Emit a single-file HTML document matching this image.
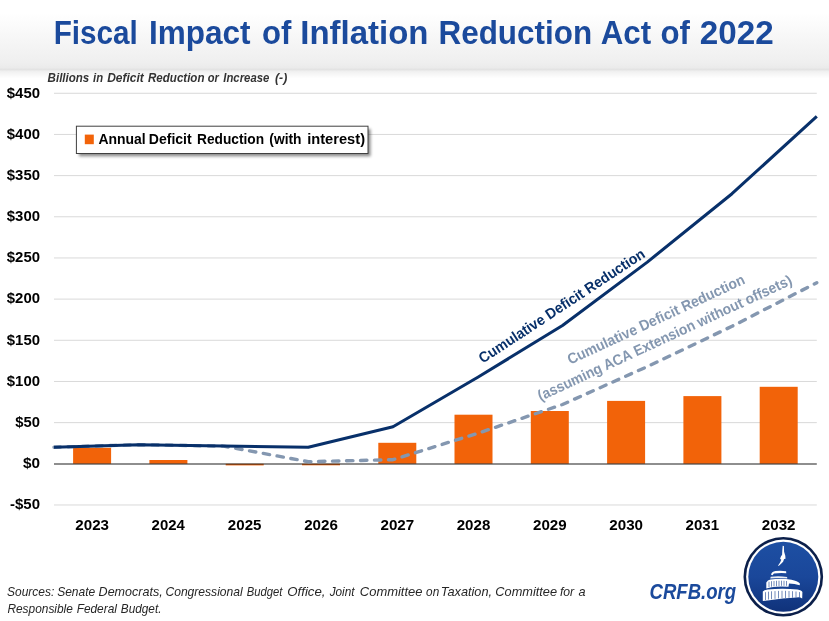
<!DOCTYPE html>
<html lang="en"><head><meta charset="utf-8"><title>Fiscal Impact of Inflation Reduction Act of 2022</title>
<style>
html,body{margin:0;padding:0;background:#fff;}
body{width:829px;height:621px;overflow:hidden;font-family:"Liberation Sans", sans-serif;}
svg{display:block;}
text{font-family:"Liberation Sans", sans-serif;white-space:pre;}
</style></head><body>
<svg width="829" height="621" viewBox="0 0 829 621">
<defs>
<linearGradient id="hg" gradientUnits="userSpaceOnUse" x1="0" y1="0" x2="0" y2="80">
<stop offset="0" stop-color="#ffffff"/><stop offset="0.16" stop-color="#ffffff"/><stop offset="0.5" stop-color="#f6f6f6"/><stop offset="0.78" stop-color="#efefef"/><stop offset="0.845" stop-color="#ebebeb"/><stop offset="0.868" stop-color="#e3e3e3"/><stop offset="0.895" stop-color="#f1f1f1"/><stop offset="0.98" stop-color="#ffffff"/>
</linearGradient>
<linearGradient id="lg" x1="0" y1="0" x2="0" y2="1"><stop offset="0" stop-color="#1d4fa3"/><stop offset="0.5" stop-color="#1a479a"/><stop offset="1" stop-color="#10327a"/></linearGradient>
<filter id="sh" x="-5%" y="-20%" width="112%" height="150%"><feGaussianBlur stdDeviation="1.6"/></filter>
</defs>
<rect x="0" y="0" width="829" height="621" fill="#ffffff"/>
<rect x="0" y="0" width="829" height="80" fill="url(#hg)"/>

<g font-size="32.5" font-weight="bold" fill="#1B4A9C">
<text x="53.64" y="44.40" textLength="84.03" lengthAdjust="spacingAndGlyphs">Fiscal</text>
<text x="148.92" y="44.40" textLength="101.56" lengthAdjust="spacingAndGlyphs">Impact</text>
<text x="262.09" y="44.40" textLength="29.35" lengthAdjust="spacingAndGlyphs">of</text>
<text x="300.33" y="44.40" textLength="128.12" lengthAdjust="spacingAndGlyphs">Inflation</text>
<text x="438.53" y="44.40" textLength="153.61" lengthAdjust="spacingAndGlyphs">Reduction</text>
<text x="600.75" y="44.40" textLength="50.44" lengthAdjust="spacingAndGlyphs">Act</text>
<text x="660.48" y="44.40" textLength="29.45" lengthAdjust="spacingAndGlyphs">of</text>
<text x="699.87" y="44.40" textLength="73.95" lengthAdjust="spacingAndGlyphs">2022</text>
</g>
<g font-size="12.7" font-weight="bold" font-style="italic" fill="#333">
<text x="47.60" y="81.60" textLength="41.69" lengthAdjust="spacingAndGlyphs">Billions</text>
<text x="93.11" y="81.60" textLength="10.06" lengthAdjust="spacingAndGlyphs">in</text>
<text x="107.20" y="81.60" textLength="36.69" lengthAdjust="spacingAndGlyphs">Deficit</text>
<text x="148.00" y="81.60" textLength="56.48" lengthAdjust="spacingAndGlyphs">Reduction</text>
<text x="207.82" y="81.60" textLength="11.12" lengthAdjust="spacingAndGlyphs">or</text>
<text x="223.31" y="81.60" textLength="46.01" lengthAdjust="spacingAndGlyphs">Increase</text>
<text x="275.05" y="81.60" textLength="12.21" lengthAdjust="spacingAndGlyphs">(-)</text>
</g>
<g stroke="#d9d9d9" stroke-width="1">
<line x1="54.0" y1="93.27" x2="816.8" y2="93.27"/>
<line x1="54.0" y1="134.44" x2="816.8" y2="134.44"/>
<line x1="54.0" y1="175.61" x2="816.8" y2="175.61"/>
<line x1="54.0" y1="216.78" x2="816.8" y2="216.78"/>
<line x1="54.0" y1="257.95" x2="816.8" y2="257.95"/>
<line x1="54.0" y1="299.12" x2="816.8" y2="299.12"/>
<line x1="54.0" y1="340.29" x2="816.8" y2="340.29"/>
<line x1="54.0" y1="381.46" x2="816.8" y2="381.46"/>
<line x1="54.0" y1="422.63" x2="816.8" y2="422.63"/>
<line x1="54.0" y1="504.97" x2="816.8" y2="504.97"/>
</g>
<g font-size="14.2" font-weight="bold" fill="#000">
<text x="6.81" y="97.57" textLength="33.20" lengthAdjust="spacingAndGlyphs">$450</text>
<text x="6.81" y="138.74" textLength="33.20" lengthAdjust="spacingAndGlyphs">$400</text>
<text x="6.81" y="179.91" textLength="33.20" lengthAdjust="spacingAndGlyphs">$350</text>
<text x="6.81" y="221.08" textLength="33.20" lengthAdjust="spacingAndGlyphs">$300</text>
<text x="6.81" y="262.25" textLength="33.20" lengthAdjust="spacingAndGlyphs">$250</text>
<text x="6.81" y="303.42" textLength="33.20" lengthAdjust="spacingAndGlyphs">$200</text>
<text x="6.81" y="344.59" textLength="33.20" lengthAdjust="spacingAndGlyphs">$150</text>
<text x="6.81" y="385.76" textLength="33.20" lengthAdjust="spacingAndGlyphs">$100</text>
<text x="15.31" y="426.93" textLength="24.69" lengthAdjust="spacingAndGlyphs">$50</text>
<text x="23.00" y="468.10" textLength="17.02" lengthAdjust="spacingAndGlyphs">$0</text>
<text x="10.02" y="509.27" textLength="29.99" lengthAdjust="spacingAndGlyphs">-$50</text>
</g>
<g fill="#F26309">
<rect x="73.1" y="447.8" width="38" height="16.0"/>
<rect x="149.4" y="460.0" width="38" height="3.8"/>
<rect x="225.7" y="463.8" width="38" height="1.6"/>
<rect x="302.0" y="463.8" width="38" height="1.5"/>
<rect x="378.3" y="442.8" width="38" height="21.0"/>
<rect x="454.5" y="414.7" width="38" height="49.1"/>
<rect x="530.8" y="411.0" width="38" height="52.8"/>
<rect x="607.1" y="400.9" width="38" height="62.9"/>
<rect x="683.4" y="396.1" width="38" height="67.7"/>
<rect x="759.7" y="386.8" width="38" height="77.0"/>
</g>
<line x1="54.0" y1="464.00" x2="816.8" y2="464.00" stroke="#1f1f1f" stroke-width="1.1"/>
<polyline points="54.0,447.2 138.8,444.7 223.5,446.1 308.3,461.7 393.0,459.7 477.8,433.3 562.5,404.5 647.3,366.6 732.0,326.3 816.8,282.7" fill="none" stroke="#8497B0" stroke-width="3.4" stroke-dasharray="6.4 7.6" stroke-linecap="round" stroke-linejoin="round"/>
<polyline points="54.0,447.2 138.8,444.7 223.5,446.1 308.3,447.3 393.0,426.7 477.8,377.3 562.5,325.5 647.3,262.1 732.0,193.7 816.8,116.3" fill="none" stroke="#08306A" stroke-width="3.05" stroke-linejoin="round"/>
<g font-size="14.2" font-weight="bold" fill="#000">
<text x="75.33" y="530.40" textLength="33.65" lengthAdjust="spacingAndGlyphs">2023</text>
<text x="151.61" y="530.40" textLength="33.19" lengthAdjust="spacingAndGlyphs">2024</text>
<text x="227.89" y="530.40" textLength="33.53" lengthAdjust="spacingAndGlyphs">2025</text>
<text x="304.17" y="530.40" textLength="33.65" lengthAdjust="spacingAndGlyphs">2026</text>
<text x="380.44" y="530.40" textLength="33.78" lengthAdjust="spacingAndGlyphs">2027</text>
<text x="456.73" y="530.40" textLength="33.58" lengthAdjust="spacingAndGlyphs">2028</text>
<text x="533.01" y="530.40" textLength="33.67" lengthAdjust="spacingAndGlyphs">2029</text>
<text x="609.28" y="530.40" textLength="33.73" lengthAdjust="spacingAndGlyphs">2030</text>
<text x="685.57" y="530.40" textLength="33.53" lengthAdjust="spacingAndGlyphs">2031</text>
<text x="761.84" y="530.40" textLength="33.72" lengthAdjust="spacingAndGlyphs">2032</text>
</g>
<rect x="79" y="129" width="291.6" height="27.3" fill="#000" opacity="0.45" filter="url(#sh)"/>
<rect x="76.4" y="126.2" width="291.6" height="27.3" fill="#fff" stroke="#404040" stroke-width="1"/>
<rect x="84.8" y="134.6" width="9" height="9.6" fill="#F26309"/>
<g font-size="14.6" font-weight="bold" fill="#000">
<text x="98.46" y="144.20" textLength="47.31" lengthAdjust="spacingAndGlyphs">Annual</text>
<text x="148.77" y="144.20" textLength="42.90" lengthAdjust="spacingAndGlyphs">Deficit</text>
<text x="196.99" y="144.20" textLength="67.15" lengthAdjust="spacingAndGlyphs">Reduction</text>
<text x="269.32" y="144.20" textLength="32.23" lengthAdjust="spacingAndGlyphs">(with</text>
<text x="307.19" y="144.20" textLength="57.83" lengthAdjust="spacingAndGlyphs">interest)</text>
</g>
<text transform="translate(483.3,363.4) rotate(-33.3)" x="-0.58" y="0" font-size="14.9" font-weight="bold" fill="#08306A" textLength="195.44" lengthAdjust="spacingAndGlyphs">Cumulative Deficit Reduction</text>
<text transform="translate(570.7,364.6) rotate(-24.9)" x="-0.57" y="0" font-size="14.9" font-weight="bold" fill="#8497B0" textLength="193.93" lengthAdjust="spacingAndGlyphs">Cumulative Deficit Reduction</text>
<text transform="translate(541.2,400.8) rotate(-24.9)" x="-0.68" y="0" font-size="14.9" font-weight="bold" fill="#8497B0" textLength="278.35" lengthAdjust="spacingAndGlyphs">(assuming ACA Extension without offsets)</text>
<g font-size="12.4" font-style="italic" fill="#262626">
<text x="7.06" y="596.00" textLength="47.22" lengthAdjust="spacingAndGlyphs">Sources:</text>
<text x="57.16" y="596.00" textLength="38.07" lengthAdjust="spacingAndGlyphs">Senate</text>
<text x="98.62" y="596.00" textLength="64.02" lengthAdjust="spacingAndGlyphs">Democrats,</text>
<text x="165.43" y="596.00" textLength="77.29" lengthAdjust="spacingAndGlyphs">Congressional</text>
<text x="246.81" y="596.00" textLength="35.65" lengthAdjust="spacingAndGlyphs">Budget</text>
<text x="287.29" y="596.00" textLength="38.25" lengthAdjust="spacingAndGlyphs">Office,</text>
<text x="329.64" y="596.00" textLength="24.95" lengthAdjust="spacingAndGlyphs">Joint</text>
<text x="359.89" y="596.00" textLength="62.58" lengthAdjust="spacingAndGlyphs">Committee</text>
<text x="426.12" y="596.00" textLength="13.12" lengthAdjust="spacingAndGlyphs">on</text>
<text x="440.87" y="596.00" textLength="51.20" lengthAdjust="spacingAndGlyphs">Taxation,</text>
<text x="495.30" y="596.00" textLength="61.77" lengthAdjust="spacingAndGlyphs">Committee</text>
<text x="559.90" y="596.00" textLength="14.29" lengthAdjust="spacingAndGlyphs">for</text>
<text x="578.55" y="596.00" textLength="7.06" lengthAdjust="spacingAndGlyphs">a</text>
</g>
<g font-size="12.4" font-style="italic" fill="#262626">
<text x="7.44" y="613.20" textLength="65.39" lengthAdjust="spacingAndGlyphs">Responsible</text>
<text x="76.64" y="613.20" textLength="40.29" lengthAdjust="spacingAndGlyphs">Federal</text>
<text x="120.85" y="613.20" textLength="40.59" lengthAdjust="spacingAndGlyphs">Budget.</text>
</g>
<g font-size="21.4" font-weight="bold" font-style="italic" fill="#1B4A9C">
<text x="649.51" y="598.60" textLength="86.61" lengthAdjust="spacingAndGlyphs">CRFB.org</text>
</g>
<g>
<circle cx="783.3" cy="576.8" r="39.8" fill="#0b1f4a"/>
<circle cx="783.3" cy="576.8" r="37.2" fill="#ffffff"/>
<circle cx="783.3" cy="576.8" r="35" fill="url(#lg)"/>
<g transform="translate(-0.5,0.2)">
<g fill="#ffffff">
<path d="M783.2 545.6 L784.4 545.8 L784.6 551.5 L785.8 555.5 L786 558.5 L784.6 558.8 L783.6 561.5 L781.6 563.6 L779.2 565.8 L778.6 565.2 L780.6 562.4 L781.8 559.6 L780.6 558.6 L781.4 556.4 L782.6 554.6 L782.8 550 Z"/>
<path d="M771.6 574.6 Q772 571.6 776 570.9 Q781 570.2 786.6 571 L786.8 573 Q780 572.4 774.4 573.4 L773 575 Z"/>
<path d="M770.8 578.4 L771.2 576.6 Q779 575.4 787.6 576.8 L787.8 578.2 Q779 577.2 770.8 578.4 Z" opacity="0.9"/>
<path d="M766.8 588.2 L766.8 582.4 Q768 580 771 579.3 Q782 577.8 792 579.6 Q798 580.8 800.4 583.2 L800.2 585 Q795 583.2 789.5 583.2 L789 586.6 Q780 585.6 772 587 Z"/>
<path d="M763.3 600.9 L763.3 591.4 Q764.5 589.8 768 589.3 Q783 587.7 798 589.3 Q802.2 589.9 802.9 591.8 L802.7 598.2 Q800 596.6 797 597.4 Q783 597.9 770 600 Z"/>
</g>
<g stroke="#173f8c" stroke-width="0.7" opacity="0.85">
<path d="M769.5 581.5V587 M772 581V586.5 M774.5 580.8V586.2 M777 580.6V586 M779.5 580.5V585.8 M782 580.5V585.6 M784.5 580.6V585.6 M787 580.8V585.6"/>
<path d="M766 592V599.8 M769 591.5V599.3 M772 591.1V599 M775.5 590.9V598.6 M779 590.7V598.2 M782.5 590.6V598 M786 590.6V597.8 M789.5 590.8V597.6 M793 591V597.5 M796.5 591.3V597.4 M800 591.9V597.6"/>
</g>
</g>
</g>
</svg>
</body></html>
